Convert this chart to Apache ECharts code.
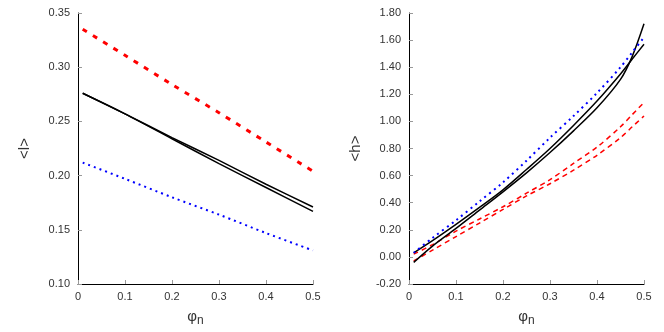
<!DOCTYPE html>
<html>
<head>
<meta charset="utf-8">
<script src="https://cdn.jsdelivr.net/npm/echarts@6/dist/echarts.min.js"></script>
<style>
  html, body { margin: 0; padding: 0; background: #fff; }
  #chart { width: 664px; height: 332px; }
</style>
</head>
<body>
<div id="chart"></div>
<script>
// left panel: <l> vs phi_n
const xsL = [0.01, 0.1, 0.2, 0.3, 0.4, 0.5]
const lRed = [0.335, 0.311, 0.284, 0.258, 0.231, 0.204]
const lBlack1 = [0.276, 0.257, 0.235, 0.214, 0.192, 0.171]
const lBlack2 = [0.276, 0.257, 0.234, 0.211, 0.189, 0.167]
const lBlue = [0.212, 0.197, 0.180, 0.164, 0.147, 0.131]

// right panel: <h> vs phi_n
const xsR = [0.01, 0.05, 0.1, 0.15, 0.2, 0.25, 0.3, 0.35, 0.4, 0.45, 0.475, 0.5]
const hBlue = [0.03, 0.14, 0.27, 0.41, 0.55, 0.71, 0.88, 1.04, 1.21, 1.40, 1.51, 1.62]
const hBlackA = [0.03, 0.12, 0.24, 0.365, 0.495, 0.645, 0.80, 0.97, 1.15, 1.35, 1.46, 1.57]
const hBlackB = [-0.04, 0.08, 0.21, 0.345, 0.48, 0.62, 0.77, 0.93, 1.10, 1.31, 1.48, 1.72]
const hRed1 = [0.02, 0.09, 0.19, 0.28, 0.37, 0.47, 0.57, 0.69, 0.81, 0.96, 1.05, 1.14]
const hRed2 = [-0.03, 0.05, 0.15, 0.25, 0.35, 0.45, 0.54, 0.64, 0.75, 0.88, 0.96, 1.04]

const xTicks = ['0', '0.1', '0.2', '0.3', '0.4', '0.5']

const font = 'Liberation Sans, Arial, sans-serif'
const pairs = (xs, ys) => xs.map((x, i) => [x, ys[i]])

const xAxisBase = (gridIndex) => ({
  type: 'value', gridIndex, min: 0, max: 0.5, interval: 0.1,
  name: '{a|φ}{b|n}', nameLocation: 'middle', nameGap: 23,
  nameTextStyle: {
    rich: {
      a: { fontFamily: font, fontSize: 15, color: '#333' },
      b: { fontFamily: font, fontSize: 12, color: '#333', verticalAlign: 'bottom', padding: [8, 0, 0, 0] }
    }
  },
  axisLine: { show: true, onZero: false, lineStyle: { color: '#000', width: 1 } },
  axisTick: { show: true, inside: true, length: 4, lineStyle: { color: '#999' } },
  axisLabel: {
    color: '#333', fontFamily: font, fontSize: 11, margin: 7,
    formatter: (v) => xTicks[Math.round(v * 10)]
  },
  splitLine: { show: false }
})

const yAxisBase = (gridIndex, min, max, interval, name) => ({
  type: 'value', gridIndex, min, max, interval,
  name, nameLocation: 'middle', nameGap: 46, nameRotate: 90,
  nameTextStyle: { fontFamily: font, fontSize: 15, color: '#333' },
  axisLine: { show: true, onZero: false, lineStyle: { color: '#000', width: 1 } },
  axisTick: { show: true, inside: true, length: 4, lineStyle: { color: '#999' } },
  axisLabel: {
    color: '#333', fontFamily: font, fontSize: 11, margin: 8,
    formatter: (v) => v.toFixed(2)
  },
  splitLine: { show: false }
})

const line = (xi, yi, xs, ys, color, width, type) => ({
  type: 'line', xAxisIndex: xi, yAxisIndex: yi,
  data: pairs(xs, ys), showSymbol: false, symbol: 'none', smooth: 0.3,
  lineStyle: { color, width, type },
  silent: true
})

const chart = echarts.init(document.getElementById('chart'), null, { renderer: 'canvas' })
chart.setOption({
  animation: false,
  backgroundColor: '#fff',
  grid: [
    { left: 78, right: 351, top: 13, bottom: 45 },
    { left: 409, right: 20, top: 13, bottom: 46 }
  ],
  xAxis: [xAxisBase(0), xAxisBase(1)],
  yAxis: [
    yAxisBase(0, 0.10, 0.35, 0.05, '<l>'),
    yAxisBase(1, -0.2, 1.8, 0.2, '<h>')
  ],
  series: [
    line(0, 0, xsL, lRed, '#ff0000', 3, [5, 7]),
    line(0, 0, xsL, lBlack1, '#000', 1.5, 'solid'),
    line(0, 0, xsL, lBlack2, '#000', 1.5, 'solid'),
    line(0, 0, xsL, lBlue, '#0000ff', 2, [2, 4]),
    line(1, 1, xsR, hRed1, '#ff0000', 1.5, [5, 4]),
    line(1, 1, xsR, hRed2, '#ff0000', 1.5, [5, 4]),
    line(1, 1, xsR, hBlackA, '#000', 1.5, 'solid'),
    line(1, 1, xsR, hBlackB, '#000', 1.5, 'solid'),
    line(1, 1, xsR, hBlue, '#0000ff', 2, [2, 4])
  ]
})
</script>
</body>
</html>
